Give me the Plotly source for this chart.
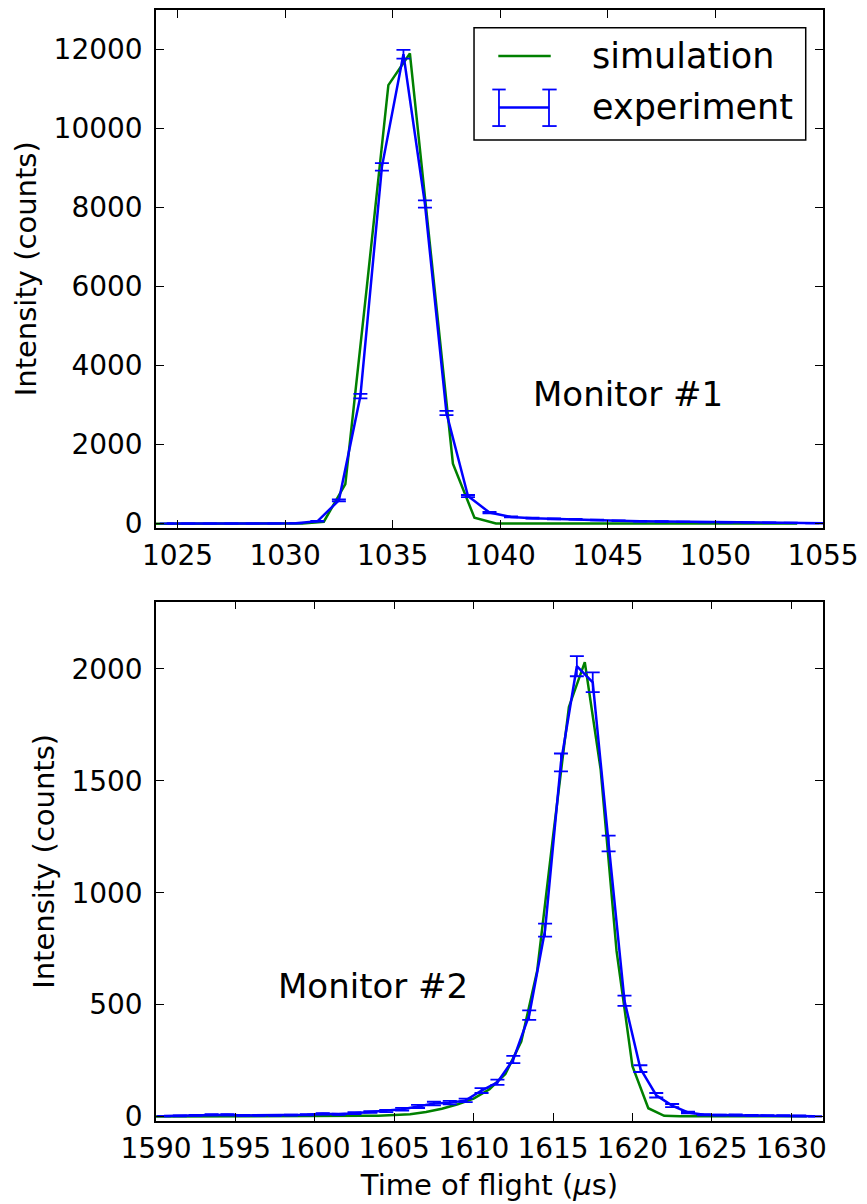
import plotly.graph_objects as go

# ---------------- data: Monitor #1 ----------------
m1_exp_t = [1024.5, 1025.5, 1026.5, 1027.5, 1028.5, 1029.5, 1030.5, 1031.5, 1032.5, 1033.5,
            1034.5, 1035.5, 1036.5, 1037.5, 1038.5, 1039.5, 1040.5, 1041.5, 1042.5, 1043.5,
            1044.5, 1045.5, 1046.5, 1047.5, 1048.5, 1049.5, 1050.5, 1051.5, 1052.5, 1053.5,
            1054.5, 1055.5]
m1_exp_counts = [5, 5, 5, 5, 5, 5, 8, 60, 590, 3230,
                 9030, 11880, 8090, 2800, 700, 280, 170, 140, 120, 110,
                 90, 75, 60, 55, 45, 40, 35, 30, 25, 20,
                 15, 10]
m1_exp_err = [2, 2, 2, 2, 2, 2, 3, 8, 24, 57,
              95, 109, 90, 53, 26, 17, 13, 12, 11, 10,
              9, 9, 8, 7, 7, 6, 6, 5, 5, 4,
              4, 3]
m1_sim_t = [1023.8, 1024.8, 1025.8, 1026.8, 1027.8, 1028.8, 1029.8, 1030.8, 1031.8, 1032.8,
            1033.8, 1034.8, 1035.8, 1036.8, 1037.8, 1038.8, 1039.8, 1040.8, 1041.8, 1042.8,
            1043.8, 1044.8, 1045.8, 1046.8, 1047.8, 1048.8, 1049.8, 1050.8, 1051.8, 1052.8,
            1053.8]
m1_sim_counts = [0, 0, 0, 0, 0, 0, 0, 2, 50, 1000,
                 6000, 11100, 11900, 6700, 1520, 150, 5, 1, 1, 1,
                 1, 1, 1, 1, 1, 1, 1, 1, 1, 1,
                 1]

# ---------------- data: Monitor #2 ----------------
m2_exp_t = [1590.5, 1591.5, 1592.5, 1593.5, 1594.5, 1595.5, 1596.5, 1597.5, 1598.5, 1599.5,
            1600.5, 1601.5, 1602.5, 1603.5, 1604.5, 1605.5, 1606.5, 1607.5, 1608.5, 1609.5,
            1610.5, 1611.5, 1612.5, 1613.5, 1614.5, 1615.5, 1616.5, 1617.5, 1618.5, 1619.5,
            1620.5, 1621.5, 1622.5, 1623.5, 1624.5, 1625.5, 1626.5, 1627.5, 1628.5, 1629.5,
            1630.5, 1631.5]
m2_exp_counts = [2, 3, 5, 8, 8, 5, 5, 5, 6, 8,
                 12, 10, 15, 20, 25, 33, 45, 58, 62, 72,
                 116, 153, 255, 453, 833, 1582, 2012, 1940, 1220, 517,
                 214, 95, 49, 18, 8, 6, 7, 5, 4, 4,
                 3, 1]
m2_exp_err = [1, 2, 2, 3, 3, 2, 2, 2, 2, 3,
              3, 3, 4, 4, 5, 6, 7, 8, 8, 8,
              11, 12, 16, 21, 29, 40, 45, 44, 35, 23,
              15, 10, 7, 4, 3, 2, 3, 2, 2, 2,
              2, 1]
m2_sim_t = [1590, 1591, 1592, 1593, 1594, 1595, 1596, 1597, 1598, 1599,
            1600, 1601, 1602, 1603, 1604, 1605, 1606, 1607, 1608, 1609,
            1610, 1611, 1612, 1613, 1614, 1615, 1616, 1617, 1618, 1619,
            1620, 1621, 1622, 1623, 1624, 1625, 1626, 1627, 1628, 1629,
            1630, 1631]
m2_sim_counts = [0, 0, 0, 0, 0, 0, 0, 0, 0, 0,
                 1, 1, 2, 3, 4, 6, 10, 20, 35, 55,
                 80, 122, 190, 335, 650, 1250, 1830, 2030, 1550, 740,
                 225, 37, 3, 1, 1, 1, 1, 1, 1, 1,
                 1, 1]

top_xticks = [1025, 1030, 1035, 1040, 1045, 1050, 1055]
top_yticks = [0, 2000, 4000, 6000, 8000, 10000, 12000]
bot_xticks = [1590, 1595, 1600, 1605, 1610, 1615, 1620, 1625, 1630]
bot_yticks = [0, 500, 1000, 1500, 2000]

GREEN = "#008000"
BLUE = "#0000ff"
FONT = "DejaVu Sans"

fig = go.Figure()

# top panel
fig.add_trace(go.Scatter(x=m1_sim_t, y=m1_sim_counts, mode="lines",
                         line=dict(color=GREEN, width=2.5), name="simulation",
                         xaxis="x", yaxis="y", showlegend=False))
fig.add_trace(go.Scatter(x=m1_exp_t, y=m1_exp_counts, mode="lines",
                         line=dict(color=BLUE, width=2.5), name="experiment",
                         error_y=dict(type="data", array=m1_exp_err, color=BLUE,
                                      thickness=1.8, width=7),
                         xaxis="x", yaxis="y", showlegend=False))
# bottom panel
fig.add_trace(go.Scatter(x=m2_sim_t, y=m2_sim_counts, mode="lines",
                         line=dict(color=GREEN, width=2.5), name="simulation",
                         xaxis="x2", yaxis="y2", showlegend=False))
fig.add_trace(go.Scatter(x=m2_exp_t, y=m2_exp_counts, mode="lines",
                         line=dict(color=BLUE, width=2.5), name="experiment",
                         error_y=dict(type="data", array=m2_exp_err, color=BLUE,
                                      thickness=1.8, width=7),
                         xaxis="x2", yaxis="y2", showlegend=False))

axis_common = dict(showline=True, linecolor="black", linewidth=1.5, mirror="ticks",
                   ticks="inside", ticklen=8, tickwidth=1, tickcolor="black",
                   showgrid=False, zeroline=False,
                   tickfont=dict(family=FONT, size=28, color="black"))

fig.update_layout(
    width=867, height=1204,
    margin=dict(l=156, r=44, t=8, b=82),
    paper_bgcolor="white", plot_bgcolor="white",
    font=dict(family=FONT, color="black"),
    xaxis=dict(domain=[0, 1], range=[1024, 1055], tickvals=top_xticks,
               ticktext=[str(v) for v in top_xticks],
               anchor="y", ticklabelstandoff=2, **axis_common),
    yaxis=dict(domain=[0.5341, 1], range=[-100, 13000], tickvals=top_yticks,
               ticktext=[str(v) for v in top_yticks],
               anchor="x", ticklabelstandoff=6,
               title=dict(text="Intensity (counts)", font=dict(family=FONT, size=29),
                          standoff=8),
               **axis_common),
    xaxis2=dict(domain=[0, 1], range=[1590, 1632], tickvals=bot_xticks,
                ticktext=[str(v) for v in bot_xticks],
                anchor="y2", ticklabelstandoff=2,
                title=dict(text="Time of flight (<i>μ</i>s)", font=dict(family=FONT, size=29),
                           standoff=10),
                **axis_common),
    yaxis2=dict(domain=[0, 0.4674], range=[-20, 2300], tickvals=bot_yticks,
                ticktext=[str(v) for v in bot_yticks],
                anchor="x2", ticklabelstandoff=6,
                title=dict(text="Intensity (counts)", font=dict(family=FONT, size=29),
                           standoff=8),
                **axis_common),
)

# panel labels
fig.add_annotation(x=1045.95, y=3277, xref="x", yref="y", text="Monitor #1",
                   showarrow=False, font=dict(family=FONT, size=34, color="black"))
fig.add_annotation(x=1603.66, y=583, xref="x2", yref="y2", text="Monitor #2",
                   showarrow=False, font=dict(family=FONT, size=34, color="black"))

# custom legend (matplotlib-style) in the top panel, axes-domain coordinates
XR, YR = "x domain", "y domain"
fig.add_shape(type="rect", xref=XR, yref=YR, x0=0.4768, x1=0.9741, y0=0.7488, y1=0.9658,
              line=dict(color="black", width=1.5), fillcolor="white", layer="above")
fig.add_shape(type="line", xref=XR, yref=YR, x0=0.5132, x1=0.5918, y0=0.9113, y1=0.9113,
              line=dict(color=GREEN, width=2.5), layer="above")
# errorbar legend glyph
hy = 0.8117
ytop, ybot = 0.8464, 0.7758
for xl, c0, c1 in [(0.5142, 0.5042, 0.5243), (0.5892, 0.5792, 0.6007)]:
    fig.add_shape(type="line", xref=XR, yref=YR, x0=xl, x1=xl, y0=ybot, y1=ytop,
                  line=dict(color=BLUE, width=1.8), layer="above")
    for yy in (ytop, ybot):
        fig.add_shape(type="line", xref=XR, yref=YR, x0=c0, x1=c1, y0=yy, y1=yy,
                      line=dict(color=BLUE, width=1.8), layer="above")
fig.add_shape(type="line", xref=XR, yref=YR, x0=0.5142, x1=0.5892, y0=hy, y1=hy,
              line=dict(color=BLUE, width=2.5), layer="above")
fig.add_annotation(x=0.6507, y=0.9113, xref=XR, yref=YR, text="simulation",
                   showarrow=False, xanchor="left", yanchor="middle",
                   font=dict(family=FONT, size=35, color="black"))
fig.add_annotation(x=0.6507, y=0.8117, xref=XR, yref=YR, text="experiment",
                   showarrow=False, xanchor="left", yanchor="middle",
                   font=dict(family=FONT, size=35, color="black"))

fig.write_html("out.html")
